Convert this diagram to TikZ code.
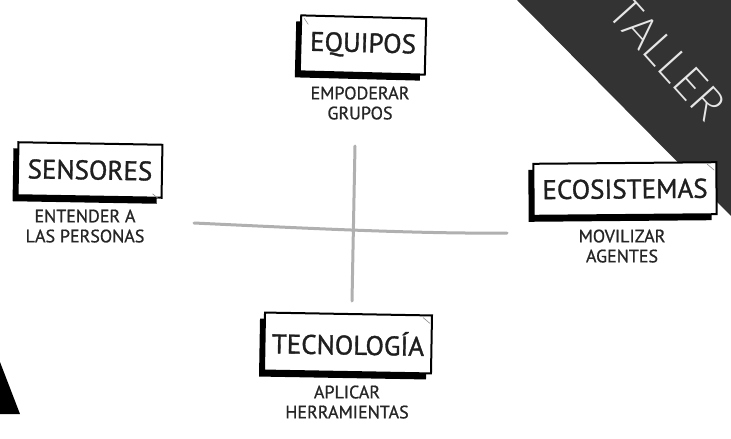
\documentclass[tikz,border=0pt]{standalone}
\usepackage{fontspec}
\setmainfont{PT Sans}
\newfontfamily\labelfont[FakeBold=1.2]{PT Sans}
\newfontfamily\subfont[FakeBold=0.8]{PT Sans}
\IfFontExistsTF{Lato Light}{\newfontfamily\thinfont{Lato Light}}{\newfontfamily\thinfont{Lato}}
\usetikzlibrary{shadows}
\definecolor{darkband}{HTML}{333333}
\definecolor{crossgray}{HTML}{B0B0B0}
\definecolor{tallertext}{HTML}{E6E6E6}
\tikzset{
  labelbox/.style={draw=black, line width=2pt, fill=white, inner sep=0pt,
    font=\labelfont\fontsize{27}{29}\selectfont, text=black!88,
    drop shadow={shadow xshift=-5pt, shadow yshift=-6pt, opacity=1, fill=black}},
  subtext/.style={font=\subfont\fontsize{18}{20}\selectfont, text=black!85, align=center},
  crossline/.style={draw=crossgray, line width=3pt, line cap=round},
  tick/.style={draw=black!45, line width=0.6pt}
}
\begin{document}
\begin{tikzpicture}[x=1pt,y=-1pt]
\useasboundingbox (0,0) rectangle (731,439);
\fill[white] (0,0) rectangle (731,439);
% dark corner band
\fill[darkband] (517,0) -- (731,0) -- (731,216) -- cycle;
\node[font=\thinfont\fontsize{44}{44}\selectfont, text=tallertext, rotate=-48] (taller) at (667,58) {TALLER};
% bottom-left black wedge
\fill[black] (0,362) -- (20,414) -- (0,414) -- cycle;
% cross
\coordinate (hl) at (194,223);
\coordinate (hr) at (507,233);
\coordinate (vt) at (355,146);
\coordinate (vb) at (352,301);
\draw[crossline] (hl) .. controls (300,228) and (420,234) .. (hr);
\draw[crossline] (vt) -- (vb);
% boxes
\node[labelbox, minimum width=125pt, minimum height=56pt, rotate=-1.5] (equipos) at (363,45) {EQUIPOS};
\node[labelbox, minimum width=144pt, minimum height=53pt, rotate=-1] (sensores) at (90,170) {SENSORES};
\node[labelbox, minimum width=183pt, minimum height=52pt, rotate=0.5] (ecosistemas) at (625,189) {ECOSISTEMAS};
\node[labelbox, minimum width=167pt, minimum height=58pt, rotate=-1] (tecnologia) at (348,343) {TECNOLOGÍA};
% corner ticks
\draw[tick] ([xshift=4pt,yshift=-4pt]equipos.north west) -- ++(4pt,-6pt);
\draw[tick] ([xshift=-10pt,yshift=5pt]sensores.south east) -- ++(6pt,-5pt);
\draw[tick] ([xshift=-10pt,yshift=-3pt]ecosistemas.north east) -- ++(7pt,-6pt);
\draw[tick] ([xshift=-10pt,yshift=-3pt]tecnologia.north east) -- ++(7pt,-6pt);
% subtitles
\node[subtext, anchor=north] (equiposs) at (360,83) {EMPODERAR\\GRUPOS};
\node[subtext, anchor=north] (sensoress) at (85,206) {ENTENDER A\\LAS PERSONAS};
\node[subtext, anchor=north] (ecosistemass) at (622,226) {MOVILIZAR\\AGENTES};
\node[subtext, anchor=north] (tecnologias) at (347,382) {APLICAR\\HERRAMIENTAS};
\end{tikzpicture}
\end{document}
